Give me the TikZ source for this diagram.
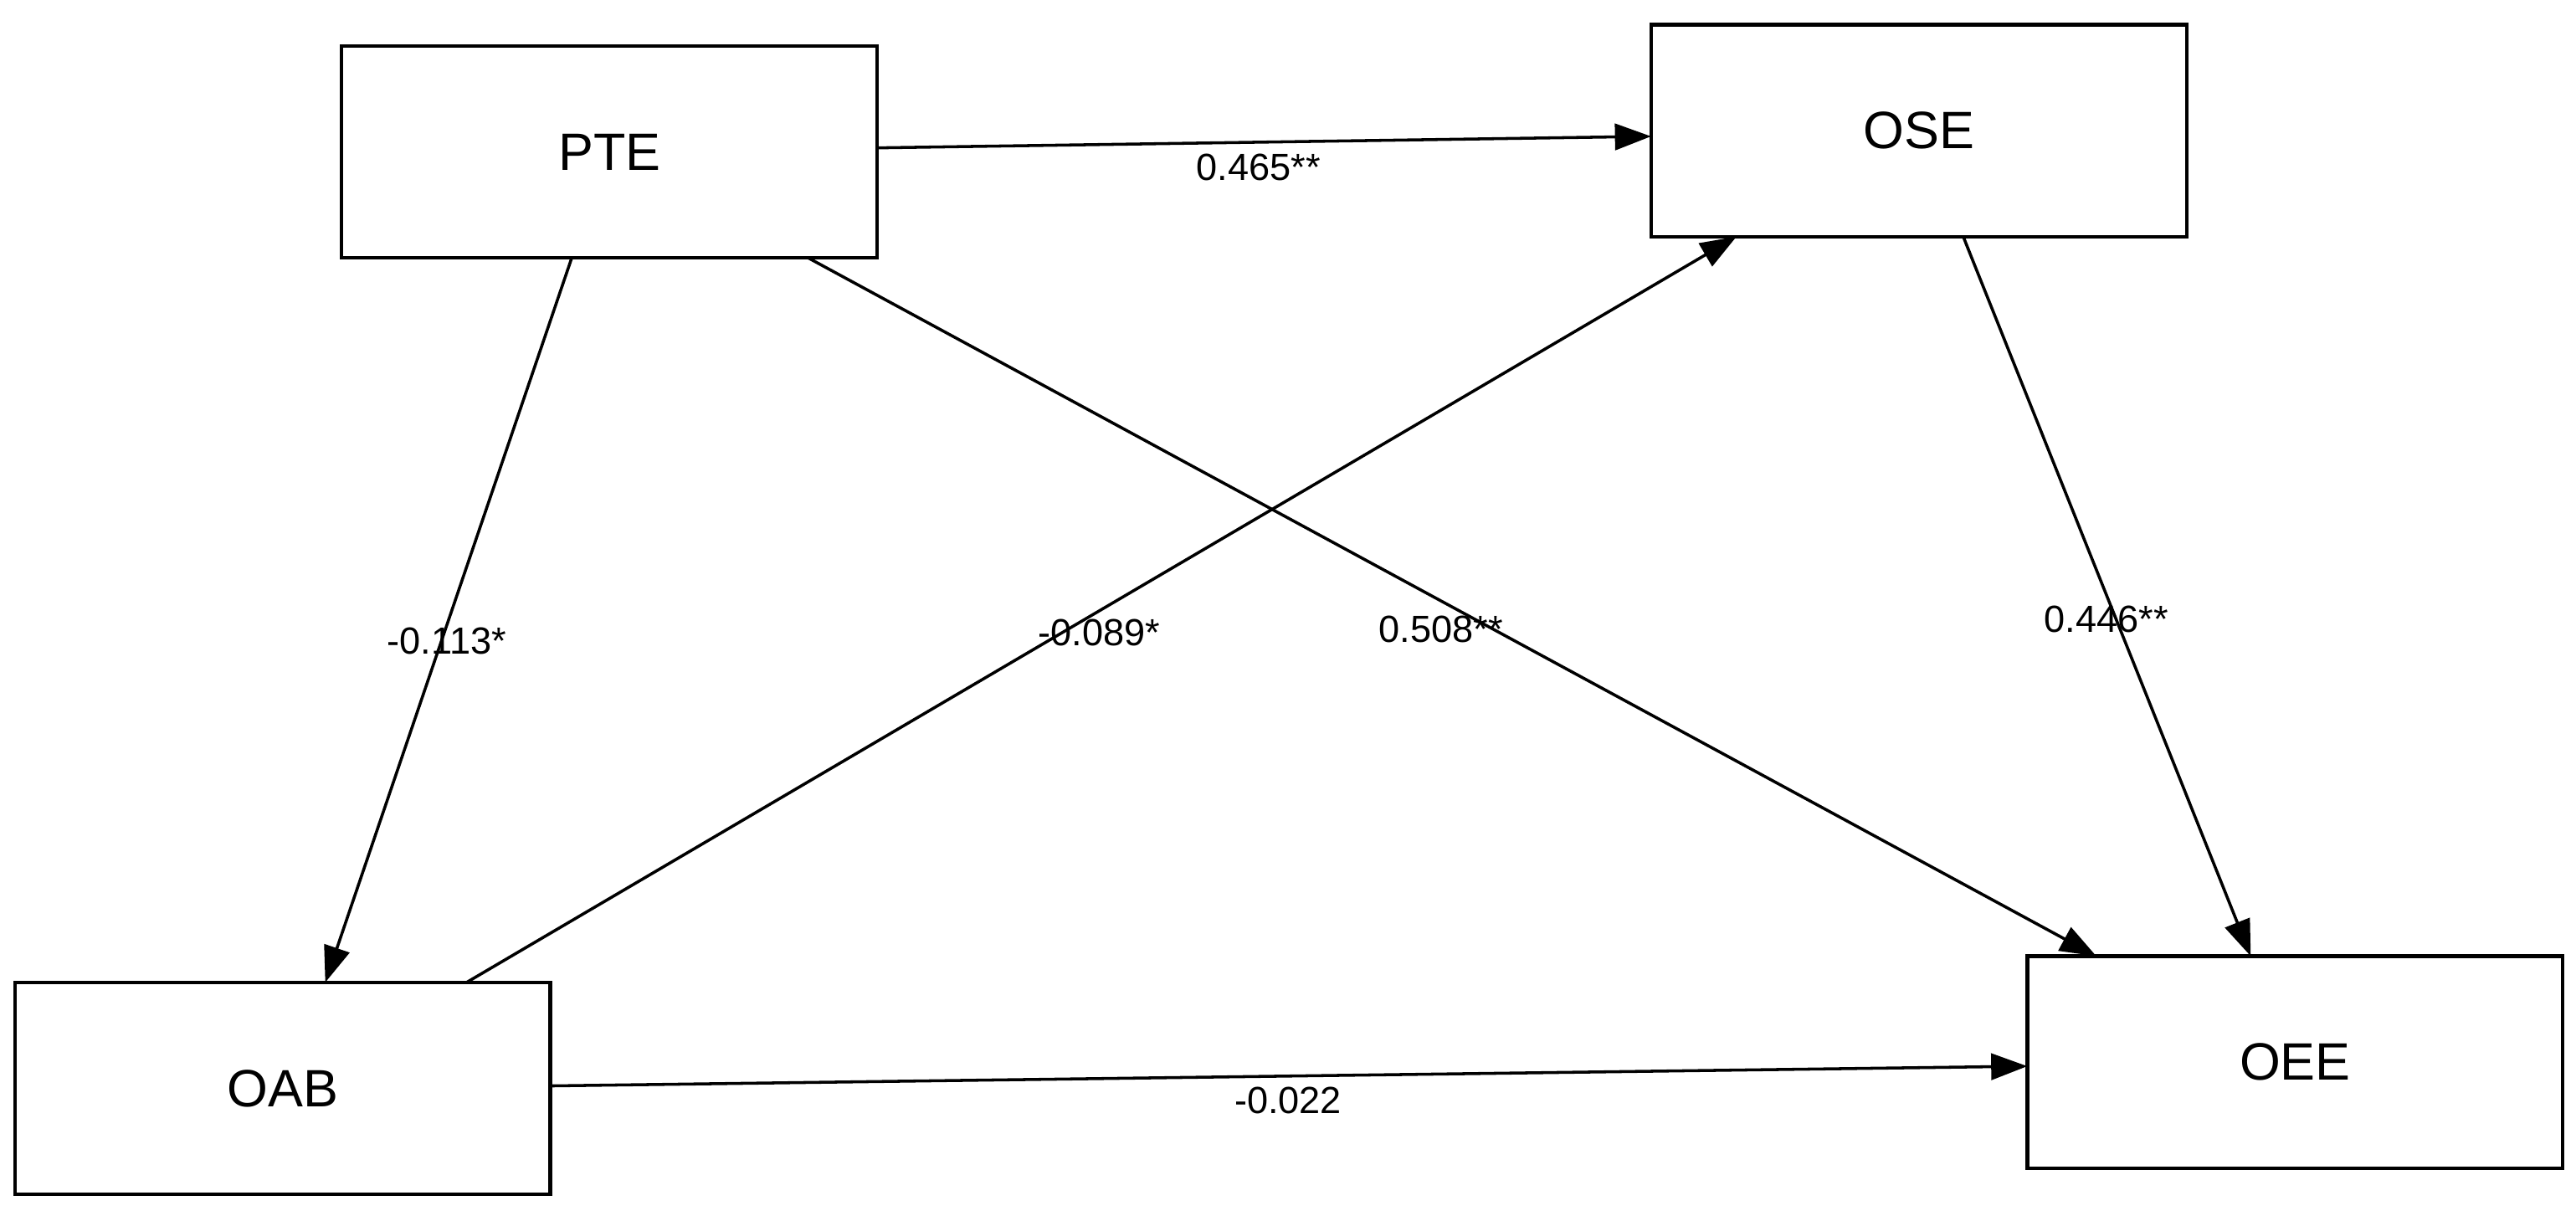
\documentclass[tikz,border=0pt]{standalone}
\usepackage{fontspec}
\setmainfont{Liberation Sans}
\usetikzlibrary{arrows.meta}
\begin{document}
\begin{tikzpicture}[x=0.5pt,y=-0.5pt,
  box/.style={draw,line width=1.1pt,minimum width=163pt,minimum height=64.5pt,inner sep=0pt,font=\fontsize{16}{18}\selectfont},
  arr/.style={line width=0.9pt,-{Triangle[length=11pt,width=8pt]}},
  lab/.style={font=\fontsize{11.5}{13}\selectfont,inner sep=0pt}]
\useasboundingbox[fill=white] (0,0) rectangle (1568,740);
\node[box] (PTE) at (371,92.5) {PTE};
\node[box] (OSE) at (1168,79.5) {OSE};
\node[box] (OAB) at (172,662.5) {OAB};
\node[box] (OEE) at (1397,646.5) {OEE};
\coordinate (p1) at (534,90);
\coordinate (s1) at (1005,83);
\coordinate (p2) at (348,157);
\coordinate (a2) at (198,598);
\coordinate (a3) at (284,598);
\coordinate (s3) at (1057,144);
\coordinate (p4) at (492,157);
\coordinate (e4) at (1276,582);
\coordinate (s5) at (1195,144);
\coordinate (e5) at (1370,582);
\coordinate (a6) at (334,661);
\coordinate (e6) at (1234,649);
\draw[arr] (p1) -- (s1);
\draw[arr] (p2) -- (a2);
\draw[arr] (a3) -- (s3);
\draw[arr] (p4) -- (e4);
\draw[arr] (s5) -- (e5);
\draw[arr] (a6) -- (e6);
\node[lab] at (766,102) {0.465**};
\node[lab] at (272,390) {-0.113*};
\node[lab] at (669,385) {-0.089*};
\node[lab] at (877,383) {0.508**};
\node[lab] at (1282,377) {0.446**};
\node[lab] at (784,670) {-0.022};
\end{tikzpicture}
\end{document}
